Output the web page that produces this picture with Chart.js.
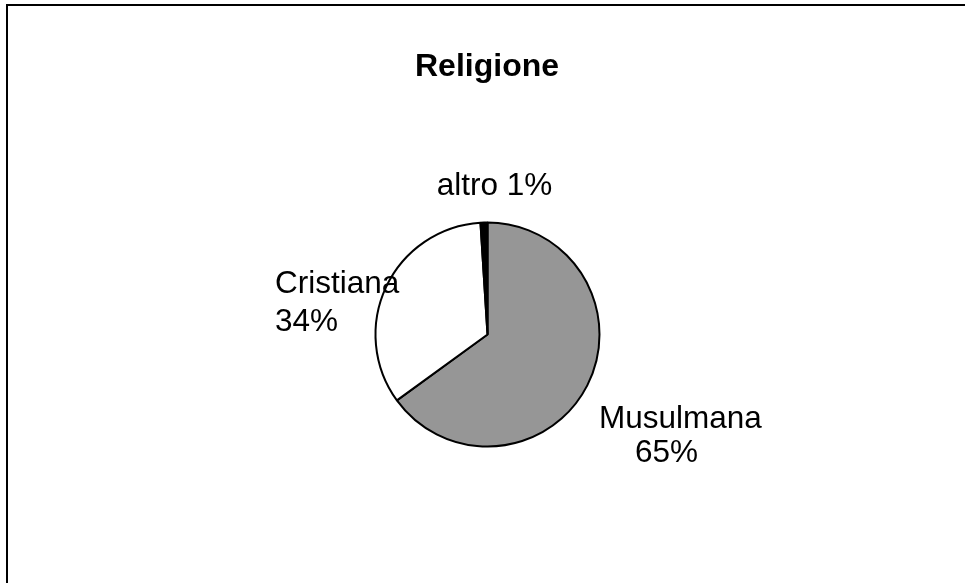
<!DOCTYPE html>
<html>
<head>
<meta charset="utf-8">
<script src="https://cdn.jsdelivr.net/npm/chart.js@4/dist/chart.umd.min.js"></script>
<style>
  html, body { margin: 0; padding: 0; background: #fff; overflow: hidden; }
  #wrap { position: relative; width: 965px; height: 583px; }
  #frame { position: absolute; left: 6px; top: 4px; width: 1000px; height: 700px; border: 2px solid #000; box-sizing: border-box; }
  canvas { position: absolute; left: 0; top: 0; }
</style>
</head>
<body>
<div id="wrap">
  <div id="frame"></div>
  <canvas id="c" width="965" height="583"></canvas>
</div>
<script>
const chartTitle = 'Religione';
const categories = ['Musulmana', 'Cristiana', 'altro'];
const shares = [65, 34, 1];
const sliceColors = ['#969696', '#ffffff', '#000000'];

// label placement relative to the pie centre (dx, dy of each baseline)
const labelLayout = [
  { lines: (c, v) => [c, v + '%'], pos: [[111.5, 93.5], [147.5, 127.2]] },
  { lines: (c, v) => [c, v + '%'], pos: [[-212.5, -41.5], [-212.5, -3.5]] },
  { lines: (c, v) => [c + ' ' + v + '%'], pos: [[-50.8, -139.5]] }
];

const textPlugin = {
  id: 'textPlugin',
  afterDraw(chart) {
    const ctx = chart.ctx;
    const meta = chart.getDatasetMeta(0);
    const arc0 = meta.data[0];
    const cx = arc0.x, cy = arc0.y;
    ctx.save();
    ctx.fillStyle = '#000';
    ctx.textBaseline = 'alphabetic';
    ctx.textAlign = 'left';
    ctx.font = 'bold 32px "Liberation Sans", Arial, sans-serif';
    ctx.fillText(chartTitle, cx - 72.5, cy - 258.5);
    ctx.font = '31.5px "Liberation Sans", Arial, sans-serif';
    categories.forEach((cat, i) => {
      const lay = labelLayout[i];
      const lines = lay.lines(cat, shares[i]);
      lines.forEach((ln, j) => {
        ctx.fillText(ln, cx + lay.pos[j][0], cy + lay.pos[j][1]);
      });
    });
    ctx.restore();
  }
};

new Chart(document.getElementById('c'), {
  type: 'pie',
  data: {
    labels: categories,
    datasets: [{
      data: shares,
      backgroundColor: sliceColors,
      borderColor: '#000000',
      borderWidth: 2,
      radius: 112
    }]
  },
  options: {
    responsive: false,
    animation: false,
    events: [],
    layout: { padding: { left: 10, right: 0, top: 86, bottom: 0 } },
    plugins: {
      legend: { display: false },
      title: { display: false },
      tooltip: { enabled: false }
    }
  },
  plugins: [textPlugin]
});
</script>
</body>
</html>
